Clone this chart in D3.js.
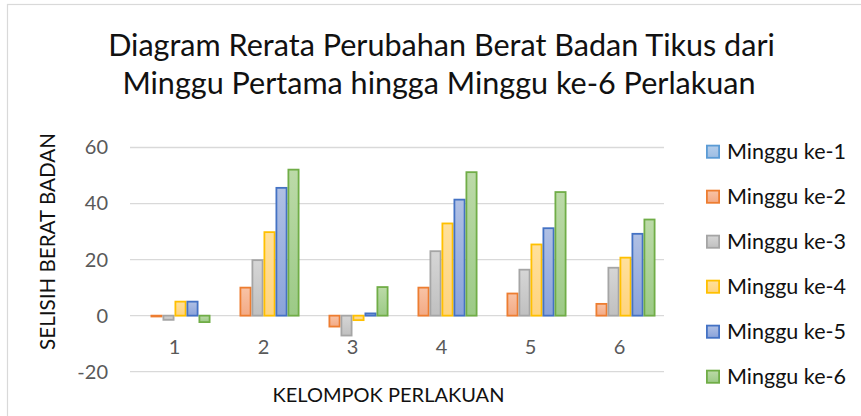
<!DOCTYPE html>
<html>
<head>
<meta charset="utf-8">
<script src="https://cdn.jsdelivr.net/npm/d3@7"></script>
<style>
  html, body { margin: 0; padding: 0; background: #fff; }
  svg { display: block; }
  text { font-family: Lato, "Open Sans", "Noto Sans", sans-serif; }
</style>
</head>
<body>
<svg id="chart" width="861" height="416"></svg>
<script>
// Kelompok perlakuan (x categories)
const categories = ["1", "2", "3", "4", "5", "6"];

// Series names (weeks)
const seriesNames = ["Minggu ke-1", "Minggu ke-2", "Minggu ke-3", "Minggu ke-4", "Minggu ke-5", "Minggu ke-6"];

// Selisih berat badan per kelompok, one array per week
const minggu1 = [0, 0, 0, 0, 0, 0];
const minggu2 = [-0.3, 10, -3.9, 10, 7.9, 4.2];
const minggu3 = [-1.5, 19.8, -7.1, 23, 16.4, 17.1];
const minggu4 = [5, 29.8, -1.6, 32.9, 25.4, 20.7];
const minggu5 = [5, 45.6, 0.8, 41.4, 31.2, 29.2];
const minggu6 = [-2.3, 52.1, 10.2, 51.2, 44.1, 34.3];

// Y axis ticks
const yTicks = [-20, 0, 20, 40, 60];
const yTickLabels = ["-20", "0", "20", "40", "60"];

const titleLines = [
  "Diagram Rerata Perubahan Berat Badan Tikus dari",
  "Minggu Pertama hingga Minggu ke-6 Perlakuan"
];
const xTitle = "KELOMPOK PERLAKUAN";
const yTitle = "SELISIH BERAT BADAN";

const seriesValues = [minggu1, minggu2, minggu3, minggu4, minggu5, minggu6];

// stroke colour, gradient top, gradient bottom
const palette = [
  ["#5b9bd5", "#b4cdea", "#9dbde3"],
  ["#ed7d31", "#f8c3a6", "#f3aa85"],
  ["#a5a5a5", "#d6d6d6", "#c0c0c0"],
  ["#ffc000", "#ffe09c", "#ffd47e"],
  ["#4472c4", "#b0c0e4", "#8aa3da"],
  ["#70ad47", "#bcdaa8", "#9cca86"]
];

const svg = d3.select("#chart");

// Scale text so that it spans a given width
function fitWidth(sel, target) {
  const node = sel.node();
  const size = parseFloat(sel.attr("font-size"));
  const w = node.getComputedTextLength();
  const s = size * target / w;
  sel.attr("font-size", s);
  return s;
}

// Chart frame
svg.append("rect")
  .attr("x", 7.5).attr("y", 4.5)
  .attr("width", 870).attr("height", 430)
  .attr("fill", "#fff")
  .attr("stroke", "#d9d9d9").attr("stroke-width", 1.2);

// Gradients
const defs = svg.append("defs");
palette.forEach((p, i) => {
  const g = defs.append("linearGradient")
    .attr("id", "grad" + i)
    .attr("x1", 0).attr("y1", 0).attr("x2", 0).attr("y2", 1);
  g.append("stop").attr("offset", "0%").attr("stop-color", p[1]);
  g.append("stop").attr("offset", "100%").attr("stop-color", p[2]);
});

// Title
const t1 = svg.append("text")
  .attr("x", 441.5).attr("y", 56)
  .attr("text-anchor", "middle")
  .attr("font-size", 28)
  .attr("fill", "#111")
  .text(titleLines[0]);
const ts = fitWidth(t1, 667);
svg.append("text")
  .attr("x", 439).attr("y", 94)
  .attr("text-anchor", "middle")
  .attr("font-size", ts)
  .attr("fill", "#111")
  .text(titleLines[1]);

// Scales
const plotLeft = 130, plotRight = 664;
const y = d3.scaleLinear().domain([-20, 60]).range([371.7, 147.5]);
const x0 = d3.scaleBand().domain(categories).range([plotLeft, plotRight]).padding(0);
const groupW = 72;
const x1 = d3.scaleBand().domain(d3.range(seriesNames.length))
  .range([(x0.bandwidth() - groupW) / 2, (x0.bandwidth() + groupW) / 2]).padding(0);

// Gridlines
svg.append("g")
  .selectAll("line")
  .data(yTicks)
  .join("line")
  .attr("x1", plotLeft).attr("x2", plotRight)
  .attr("y1", d => y(d)).attr("y2", d => y(d))
  .attr("stroke", "#d9d9d9").attr("stroke-width", 1.3);

// Y axis labels
const yAxis = svg.append("g")
  .attr("transform", `translate(${plotLeft},0)`)
  .call(d3.axisLeft(y).tickValues(yTicks)
    .tickFormat((d, i) => yTickLabels[i])
    .tickSize(0).tickPadding(22));
yAxis.select(".domain").remove();
yAxis.selectAll("text")
  .attr("font-family", "Lato, 'Open Sans', sans-serif")
  .attr("font-size", 20)
  .attr("fill", "#595959");

// X axis labels
const xAxis = svg.append("g")
  .attr("transform", `translate(0,${y(0)})`)
  .call(d3.axisBottom(x0).tickSize(0));
xAxis.select(".domain").remove();
xAxis.selectAll("text")
  .attr("font-family", "Lato, 'Open Sans', sans-serif")
  .attr("font-size", 20)
  .attr("fill", "#595959")
  .attr("y", 31.5)
  .attr("dy", "0.35em");

// Bars
const groups = svg.append("g")
  .selectAll("g")
  .data(categories)
  .join("g")
  .attr("transform", d => `translate(${x0(d)},0)`);

groups.selectAll("rect")
  .data((c, ci) => seriesValues.map((vals, si) => ({ si, v: vals[ci] })))
  .join("rect")
  .attr("x", d => x1(d.si) + 0.9)
  .attr("width", x1.bandwidth() - 1.8)
  .attr("y", d => Math.min(y(d.v), y(0)))
  .attr("height", d => Math.abs(y(d.v) - y(0)))
  .attr("fill", d => `url(#grad${d.si})`)
  .attr("stroke", d => palette[d.si][0])
  .attr("stroke-width", 1.8);

// Axis titles
const xt = svg.append("text")
  .attr("x", 388.5).attr("y", 402)
  .attr("text-anchor", "middle")
  .attr("font-size", 18)
  .attr("fill", "#111")
  .text(xTitle);
fitWidth(xt, 232);

const yt = svg.append("text")
  .attr("transform", "translate(55,241.5) rotate(-90)")
  .attr("text-anchor", "middle")
  .attr("font-size", 18)
  .attr("fill", "#111")
  .text(yTitle);
fitWidth(yt, 217);

// Legend
const legend = svg.append("g")
  .selectAll("g")
  .data(seriesNames)
  .join("g")
  .attr("transform", (d, i) => `translate(706,${151.7 + i * 45})`);

legend.append("rect")
  .attr("x", 0.9).attr("y", -6.1)
  .attr("width", 12.2).attr("height", 12.2)
  .attr("fill", (d, i) => `url(#grad${i})`)
  .attr("stroke", (d, i) => palette[i][0])
  .attr("stroke-width", 1.8);

const legTexts = legend.append("text")
  .attr("x", 21).attr("y", 7.5)
  .attr("font-size", 19)
  .attr("fill", "#111")
  .text(d => d);
const lsize = fitWidth(d3.select(legTexts.nodes()[0]), 119);
legTexts.attr("font-size", lsize);
</script>
</body>
</html>
